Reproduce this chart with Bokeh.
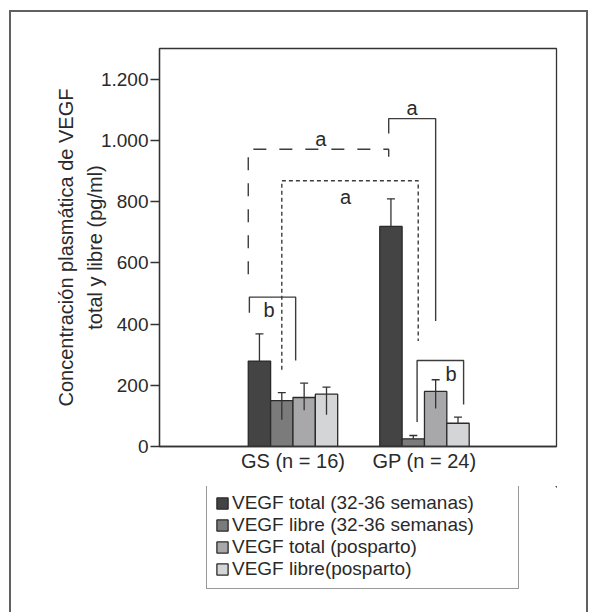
from bokeh.plotting import figure
from bokeh.layouts import column
from bokeh.models import (ColumnDataSource, Range1d, FixedTicker, Legend, LegendItem,
                          Whisker, TeeHead)
from bokeh.embed import file_html
from bokeh.resources import INLINE
from bokeh.core.properties import value

# ---------------- data ----------------
groups = ["GS (n = 16)", "GP (n = 24)"]
series = ["VEGF total (32-36 semanas)", "VEGF libre (32-36 semanas)",
          "VEGF total (posparto)", "VEGF libre(posparto)"]

vegf_total_32_36 = [279, 719]
vegf_libre_32_36 = [150, 25]
vegf_total_posparto = [160, 180]
vegf_libre_posparto = [171, 76]

err_upper_total_32_36 = [368, 809]
err_upper_libre_32_36 = [176, 36]
err_upper_total_posparto = [207, 218]
err_upper_libre_posparto = [194, 96]

err_lower_total_32_36 = [279, 719]
err_lower_libre_32_36 = [87, 25]
err_lower_total_posparto = [118, 124]
err_lower_libre_posparto = [104, 76]

y_ticks = [0, 200, 400, 600, 800, 1000, 1200]
y_tick_labels = ["0", "200", "400", "600", "800", "1.000", "1.200"]

# significance brackets: (left (group, series, frac), right (group, series, frac),
#                         top value, left end value, right end value, label)
brackets_dashed = [((0, 0, -0.5), (1, 0, -0.1), 971, 563, 937, "a")]
brackets_dotted = [((0, 1, 0.0), (1, 1, 0.22), 868, 251, 345, "a")]
brackets_solid = [((1, 0, -0.1), (1, 2, 0.0), 1071, 1022, 410, "a"),
                  ((0, 0, -0.45), (0, 2, -0.38), 488, 437, 281, "b"),
                  ((1, 1, 0.17), (1, 3, 0.25), 281, 80, 137, "b")]
# label anchor: (x shift from bracket middle in bar widths, value)
label_pos = {"dashed0": (0.1, 1006), "dotted0": (-0.2, 815),
             "solid0": (0.0, 1107), "solid1": (-0.15, 447), "solid2": (0.48, 238)}

# ---------------- styling ----------------
FONT = "Liberation Sans"
colors = ["#444444", "#7b7b7b", "#a8a8aa", "#d4d5d7"]
bar_w = 0.17
offsets = [-0.255, -0.085, 0.085, 0.255]
INK = "#2a2a2a"
TOTAL_W = 575

p = figure(frame_width=397, frame_height=398,
           x_range=Range1d(-0.015, 3.004), y_range=Range1d(0, 1300),
           output_backend="svg", toolbar_location=None,
           min_border_left=148, min_border_right=30,
           min_border_top=36, min_border_bottom=40)
p.background_fill_color = "white"
p.border_fill_color = "white"
p.xgrid.visible = False
p.ygrid.visible = False
p.outline_line_color = "#333333"
p.outline_line_width = 1.3

values = [vegf_total_32_36, vegf_libre_32_36, vegf_total_posparto, vegf_libre_posparto]
uppers = [err_upper_total_32_36, err_upper_libre_32_36, err_upper_total_posparto, err_upper_libre_posparto]
lowers = [err_lower_total_32_36, err_lower_libre_32_36, err_lower_total_posparto, err_lower_libre_posparto]


def bar_x(g, s, frac=0.0):
    return (g + 1) + offsets[s] + frac * bar_w


sources = []
for s in range(4):
    src = ColumnDataSource(dict(
        x=[bar_x(g, s) for g in range(len(groups))],
        top=values[s], upper=uppers[s], lower=lowers[s]))
    sources.append(src)
    p.vbar(x="x", top="top", width=bar_w, source=src,
           fill_color=colors[s], line_color=INK, line_width=1.3)
    w = Whisker(source=src, base="x", upper="upper", lower="lower",
                line_color="#333333", line_width=1.3, level="annotation",
                upper_head=TeeHead(size=8, line_color="#333333", line_width=1.3),
                lower_head=None)
    p.add_layout(w)

label_x, label_y, label_t = [], [], []


def draw_brackets(blist, dash, key):
    for i, (l, r, top, lend, rend, txt) in enumerate(blist):
        xl = bar_x(*l)
        xr = bar_x(*r)
        p.line([xl, xl, xr, xr], [lend, top, top, rend], line_color="#3c3c3c",
               line_width=1.4, line_dash=dash)
        dx, ly = label_pos[f"{key}{i}"]
        label_x.append((xl + xr) / 2 + dx * bar_w)
        label_y.append(ly)
        label_t.append(txt)


draw_brackets(brackets_dashed, "13 13", "dashed")
draw_brackets(brackets_dotted, "4 3", "dotted")
draw_brackets(brackets_solid, "solid", "solid")

p.text(x=label_x, y=label_y, text=label_t, text_font=value(FONT),
       text_font_size="20px", text_align="center", text_baseline="middle",
       text_color=INK)

# axes
p.xaxis.ticker = FixedTicker(ticks=[1, 2])
p.xaxis.major_label_overrides = {1: groups[0], 2: groups[1]}
p.xaxis.major_tick_out = 0
p.xaxis.major_tick_in = 0
p.xaxis.minor_tick_out = 0
p.xaxis.minor_tick_in = 0
p.xaxis.axis_line_color = "#333333"
p.xaxis.axis_line_width = 1.3
p.xaxis.major_label_text_font = FONT
p.xaxis.major_label_text_font_size = "20px"
p.xaxis.major_label_text_color = INK
p.xaxis.major_label_standoff = 3

p.yaxis.ticker = FixedTicker(ticks=y_ticks)
p.yaxis.major_label_overrides = dict(zip(y_ticks, y_tick_labels))
p.yaxis.major_tick_out = 9
p.yaxis.major_tick_in = 0
p.yaxis.minor_tick_out = 0
p.yaxis.minor_tick_in = 0
p.yaxis.axis_line_color = "#333333"
p.yaxis.axis_line_width = 1.3
p.yaxis.major_tick_line_color = "#333333"
p.yaxis.major_tick_line_width = 1.3
p.yaxis.major_label_text_font = FONT
p.yaxis.major_label_text_font_size = "19px"
p.yaxis.major_label_text_color = INK
p.yaxis.major_label_standoff = 2
p.yaxis.axis_label = "Concentración plasmática de VEGF\ntotal y libre (pg/ml)"
p.yaxis.axis_label_text_font = FONT
p.yaxis.axis_label_text_font_size = "20px"
p.yaxis.axis_label_text_font_style = "normal"
p.yaxis.axis_label_text_color = INK
p.yaxis.axis_label_standoff = -8
p.yaxis.axis_label_text_line_height = 1.3

# ---------------- legend panel (separate figure below) ----------------
# same bar renderers, with ranges that keep the bars out of view: only the legend shows
q = figure(width=TOTAL_W, height=126, x_range=Range1d(-11, -10), y_range=Range1d(-5001, -5000),
           output_backend="svg", toolbar_location=None,
           x_axis_type=None, y_axis_type=None,
           min_border_left=0, min_border_right=0, min_border_top=0, min_border_bottom=0)
q.xgrid.visible = False
q.ygrid.visible = False
q.outline_line_color = None
q.background_fill_color = "white"
q.border_fill_color = "white"

items = []
for s in range(4):
    r = q.vbar(x="x", top="top", width=bar_w, source=sources[s],
               fill_color=colors[s], line_color=INK, line_width=1.3)
    items.append(LegendItem(label=series[s], renderers=[r]))

legend = Legend(items=items, location=(47, 23),
                border_line_color="#333333", border_line_width=1.5,
                label_text_font=FONT, label_text_font_size="19px",
                label_text_color=INK,
                glyph_width=14, glyph_height=14, spacing=0, padding=8,
                label_standoff=3, label_height=19, label_width=278,
                margin=0, background_fill_color="white", background_fill_alpha=1.0)
q.add_layout(legend)

layout = column(p, q, spacing=0)
layout.styles = {"border-left": "2px solid #606060", "border-top": "2px solid #606060",
                 "border-right": "2px solid #606060",
                 "margin-left": "9px", "margin-top": "10px"}

with open("out.html", "w") as f:
    f.write(file_html(layout, INLINE))
